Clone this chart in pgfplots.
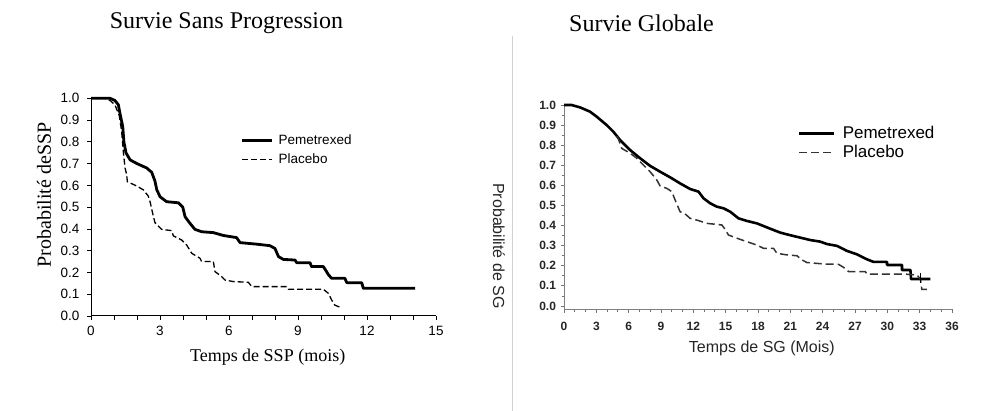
\documentclass[border=0pt]{standalone}
\usepackage{pgfplots}
\pgfplotsset{compat=1.18}
\usepackage{fontspec}
\setmainfont{Liberation Serif}
\newfontfamily\arial{Liberation Sans}
\begin{document}
\begin{tikzpicture}[x=1pt,y=1pt]
% separator
\draw[black!18, line width=0.8pt] (512,0) -- (512,375);
% titles
\node[font=\fontsize{24}{27}\selectfont] at (226.5,387.5) {Survie Sans Progression};
\node[font=\fontsize{24}{27}\selectfont] at (641.5,387.5) {Survie Globale};
%%%%%%%%%%%%%%%% LEFT
\begin{axis}[
  at={(91pt,95pt)}, anchor=south west,
  scale only axis, width=345pt, height=217.7pt,
  xmin=0, xmax=15, ymin=0, ymax=1,
  axis lines=left, axis line style={-, line width=1pt},
  clip=false,
  xtick={0,3,...,15}, minor x tick num=2,
  ytick={0,0.1,...,1.01},
  tick align=outside, major tick length=4pt, minor tick length=4pt,
  tick style={black, line width=0.8pt},
  /pgf/number format/assume math mode=true,
  yticklabel style={/pgf/number format/fixed, /pgf/number format/fixed zerofill, /pgf/number format/precision=1, xshift=-4pt},
  ticklabel style={font=\arial\fontsize{13.5}{16}\selectfont},
  xticklabel style={yshift=-3pt},
  xlabel={Temps de SSP (mois)},
  xlabel style={at={(axis description cs:0.512,-0.188)}, anchor=center, font=\fontsize{18}{20}\selectfont},
  ylabel={Probabilité deSSP},
  ylabel style={at={(axis description cs:-0.136,0.556)}, anchor=center, rotate=0, font=\fontsize{20}{22}\selectfont},
  legend style={at={(axis description cs:0.434,0.842)}, anchor=north west, draw=none, fill=none,
     font=\arial\fontsize{13.5}{16}\selectfont, inner sep=0pt, row sep=4pt},
  legend cell align=left,
  legend image code/.code={\draw[#1] (0pt,0pt) -- (30pt,0pt);},
]
\addplot[black, line width=2.8pt, line join=round] coordinates {
(0,1.0) (0.83,1.0) (1.04,0.99) (1.19,0.97) (1.26,0.93) (1.38,0.87) (1.43,0.80) (1.52,0.75)
(1.70,0.717) (2.0,0.70) (2.42,0.68) (2.64,0.66) (2.78,0.62) (2.86,0.58) (3.0,0.548) (3.29,0.525)
(3.8,0.52) (3.99,0.50) (4.09,0.456) (4.30,0.426) (4.52,0.398) (4.81,0.387) (5.32,0.383) (5.75,0.37)
(6.33,0.36) (6.48,0.337) (7.2,0.33) (7.78,0.323) (8.0,0.31) (8.15,0.273) (8.36,0.26) (8.87,0.257)
(8.94,0.245) (9.52,0.245) (9.59,0.227) (10.1,0.227) (10.2,0.211) (10.32,0.19) (10.46,0.173)
(11.04,0.173) (11.12,0.153) (11.77,0.153) (11.84,0.127) (14.09,0.127)
};
\addlegendentry{\hspace{3pt}Pemetrexed}
\addplot[black, line width=1.3pt, dash pattern=on 6pt off 3pt] coordinates {
(0,1.0) (0.6,1.0) (0.83,0.99) (1.04,0.97) (1.23,0.92) (1.33,0.85) (1.41,0.75) (1.48,0.68)
(1.55,0.65) (1.58,0.617) (1.99,0.597) (2.28,0.579) (2.49,0.551) (2.58,0.52) (2.68,0.472)
(2.78,0.429) (3.07,0.398) (3.51,0.392) (3.58,0.368) (3.94,0.349) (4.16,0.326) (4.38,0.288)
(4.74,0.265) (4.81,0.25) (5.32,0.25) (5.39,0.204) (5.68,0.181) (5.83,0.165) (6.19,0.158)
(6.84,0.155) (6.99,0.135) (8.51,0.135) (8.58,0.123) (10.1,0.123) (10.32,0.104) (10.46,0.074)
(10.6,0.05) (10.83,0.04)
};
\addlegendentry{\hspace{3pt}Placebo}
\end{axis}
%%%%%%%%%%%%%%%% RIGHT
\begin{axis}[
  at={(564pt,101.7pt)}, anchor=south west,
  scale only axis, width=388pt, height=204.3pt,
  xmin=0, xmax=36, ymin=-0.0166, ymax=1.0,
  axis lines=left, axis line style={-, line width=1pt, black!50},
  clip=false,
  xtick={0,3,...,36}, minor x tick num=2,
  ytick={0,0.1,...,1.01}, minor y tick num=1,
  tick align=outside, major tick length=3.5pt, minor tick length=2.5pt,
  tick style={black!55, line width=0.8pt},
  /pgf/number format/assume math mode=true,
  yticklabel style={/pgf/number format/fixed, /pgf/number format/fixed zerofill, /pgf/number format/precision=1, xshift=-1pt},
  ticklabel style={font=\arial\bfseries\fontsize{12}{14}\selectfont, text=black!85},
  xticklabel style={yshift=-5.5pt},
  xlabel={\arial Temps de SG (Mois)},
  xlabel style={at={(axis description cs:0.51,-0.19)}, anchor=center, font=\fontsize{16}{18}\selectfont, text=black!85},
  ylabel={\arial Probabilité de SG},
  ylabel style={at={(axis description cs:-0.168,0.31)}, anchor=center, rotate=180, font=\fontsize{16}{18}\selectfont, text=black!85},
  legend style={at={(axis description cs:0.603,0.905)}, anchor=north west, draw=none, fill=none,
     font=\arial\fontsize{17}{19}\selectfont, inner sep=0pt, row sep=1pt},
  legend cell align=left,
  legend image code/.code={\draw[#1] (0pt,0pt) -- (35pt,0pt);},
]
\addplot[black, line width=2.6pt, line join=round] coordinates {
(0,1.0) (0.7,1.0) (1.49,0.988) (2.41,0.967) (3.03,0.942) (3.96,0.90) (4.58,0.867) (5.2,0.826)
(6.13,0.776) (7.06,0.735) (7.99,0.697) (8.92,0.668) (9.85,0.64) (10.77,0.61) (11.7,0.582)
(12.48,0.569) (12.94,0.536) (13.56,0.511) (14.18,0.494) (14.8,0.486) (15.42,0.469) (16.19,0.436)
(16.97,0.423) (17.89,0.411) (18.82,0.391) (19.44,0.378) (20.06,0.365) (20.99,0.352) (21.92,0.340)
(22.85,0.328) (23.78,0.32) (24.4,0.308) (25.33,0.299) (26.25,0.274) (27.18,0.257) (28.11,0.232)
(28.73,0.219) (29.97,0.219) (29.97,0.204) (31.36,0.204) (31.36,0.179) (32.14,0.179) (32.2,0.134)
(34.0,0.134)
};
\addlegendentry{\hspace{5pt}Pemetrexed}
\addplot[black!80, line width=1.5pt, dash pattern=on 8pt off 4pt] coordinates {
(4.9,0.845) (5.05,0.83) (5.36,0.784) (6.13,0.76) (6.75,0.735) (7.37,0.701) (7.99,0.668) (8.61,0.627)
(8.92,0.597) (9.54,0.585) (10.0,0.569) (10.31,0.527) (10.77,0.469) (11.24,0.458) (11.7,0.436)
(12.48,0.425) (13.25,0.411) (14.64,0.403) (14.95,0.381) (15.26,0.353) (16.04,0.337) (16.97,0.320)
(17.89,0.303) (18.51,0.287) (19.44,0.287) (19.75,0.262) (20.68,0.254) (21.61,0.25) (22.08,0.229)
(22.54,0.216) (24.09,0.209) (25.48,0.207) (25.94,0.192) (26.41,0.171) (27.96,0.171) (28.1,0.159)
(31.5,0.159) (32.76,0.154) (33.07,0.133) (33.2,0.083) (33.67,0.083)
};
\addlegendentry{\hspace{5pt}Placebo}
\addplot[black, only marks, mark=|, mark size=5pt, mark options={line width=1pt}, forget plot] coordinates {(33.1,0.14)};
\end{axis}
\pgfresetboundingbox
\path (0,0) rectangle (999,411);
\end{tikzpicture}
\end{document}
